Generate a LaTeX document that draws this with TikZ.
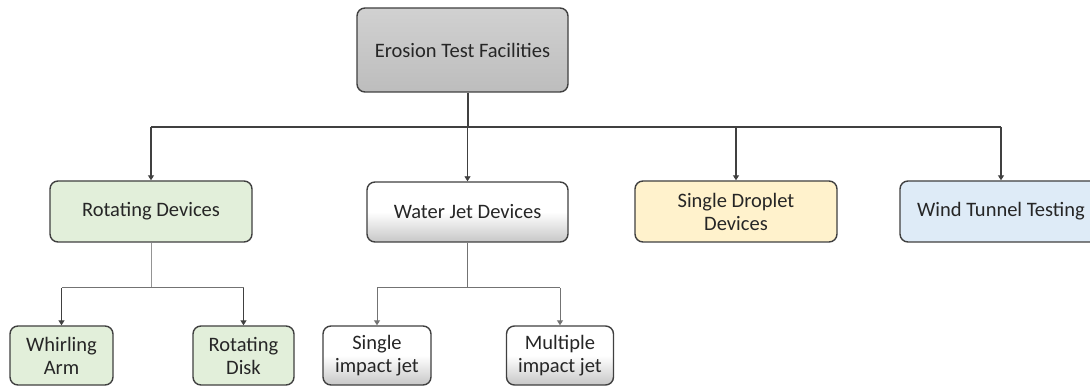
\documentclass[tikz,border=0pt]{standalone}
\usepackage{fontspec}
\setmainfont{Carlito}
\usetikzlibrary{arrows.meta,calc}
\definecolor{edgec}{HTML}{404040}
\definecolor{txtc}{HTML}{262626}
\definecolor{greenf}{HTML}{E2EFDA}
\definecolor{yellowf}{HTML}{FFF2CC}
\definecolor{bluef}{HTML}{DEEBF7}
\tikzset{
  box/.style={draw=edgec, line width=1.4pt, rounded corners=8pt, align=center,
    text=txtc, font=\fontsize{20.5}{23}\selectfont, inner sep=0pt},
  greenbox/.style={box, fill=greenf},
  graybox/.style={box, top color=white, bottom color=black!22, middle color=white},
  rootbox/.style={box, top color=black!18, bottom color=black!26},
  conn/.style={draw=edgec, line width=1.2pt},
  lite/.style={draw=black!42, line width=0.9pt},
  mid/.style={draw=black!55, line width=1pt},
  tip/.style={-{Triangle[width=6pt,length=5pt]}}
}
\begin{document}
\begin{tikzpicture}[x=1pt,y=-1pt]
\useasboundingbox (0,0) rectangle (1090,387);
\clip (0,0) rectangle (1090,387);
\fill[white] (0,0) rectangle (1090,387);

\node[rootbox, minimum width=211pt, minimum height=84pt] (root) at (462.5,50) {Erosion Test Facilities};

\node[greenbox, minimum width=202pt, minimum height=61pt] (rot) at (151,211.5) {Rotating Devices};
\node[graybox, minimum width=201pt, minimum height=60pt] (wj) at (467.5,212) {Water Jet Devices};
\node[box, fill=yellowf, minimum width=202pt, minimum height=61pt] (sd) at (736,211.5) {Single Droplet\\Devices};
\node[box, fill=bluef, minimum width=202pt, minimum height=61pt] (wt) at (1001,211.5) {Wind Tunnel Testing};

\node[greenbox, minimum width=103pt, minimum height=59pt] (wa) at (61.5,355.5) {Whirling\\Arm};
\node[greenbox, minimum width=101pt, minimum height=59pt] (rd) at (243.5,355.5) {Rotating\\Disk};
\node[graybox, minimum width=108pt, minimum height=59pt] (sij) at (377,355.5) {Single\\impact jet};
\node[graybox, minimum width=107pt, minimum height=59pt] (mij) at (560,355.5) {Multiple\\impact jet};

\coordinate (bus) at (0,127);
\coordinate (sub) at (0,288);
\coordinate (rootout) at ($(root.south)+(5.5,0)$);

% main tree
\draw[conn] (rootout) -- (rootout |- bus);
\draw[conn] (rot.north |- bus) -- (wt.north |- bus);
\draw[conn,tip] (rot.north |- bus) -- (rot.north);
\draw[conn,line width=0.9pt,tip] (wj.north |- bus) -- (wj.north);
\draw[conn,tip] (sd.north |- bus) -- (sd.north);
\draw[conn,tip] (wt.north |- bus) -- (wt.north);

% rotating devices subtree
\draw[lite] (rot.south) -- (rot.south |- sub);
\draw[mid] (wa.north |- sub) -- (rd.north |- sub);
\draw[conn,line width=1.1pt,tip] (wa.north |- sub) -- (wa.north);
\draw[conn,line width=1.1pt,tip] (rd.north |- sub) -- (rd.north);

% water jet subtree
\draw[mid] (wj.south) -- (wj.south |- sub);
\draw[mid] (sij.north |- sub) -- (mij.north |- sub);
\draw[mid,tip] (sij.north |- sub) -- (sij.north);
\draw[mid,tip] (mij.north |- sub) -- (mij.north);
\end{tikzpicture}
\end{document}
